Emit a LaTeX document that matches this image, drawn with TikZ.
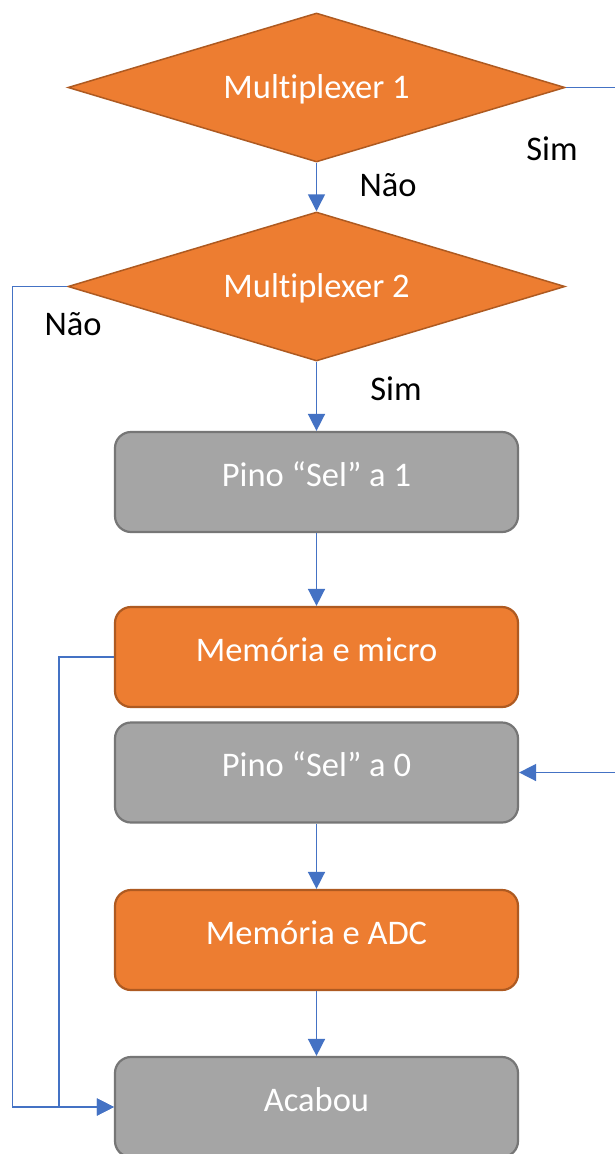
\documentclass[tikz,border=0pt]{standalone}
\usepackage{fontspec}
\setmainfont[Ligatures=NoCommon]{Carlito}
\usetikzlibrary{shapes.geometric,arrows.meta}
\definecolor{orangefill}{HTML}{ED7D31}
\definecolor{orangeline}{HTML}{AE5A21}
\definecolor{grayfill}{HTML}{A5A5A5}
\definecolor{grayline}{HTML}{767676}
\definecolor{flowblue}{HTML}{4472C4}
\begin{document}
\begin{tikzpicture}[x=1pt,y=-1pt,
  every node/.style={font=\fontsize{34.5}{40}\selectfont},
  decision/.style={diamond, aspect=3.33, minimum width=497pt, minimum height=149pt,
    inner sep=0pt, fill=orangefill, draw=orangeline, line width=1.5pt,
    text=white, text height=22pt, text depth=0pt},
  stepbox/.style={rectangle, rounded corners=16pt, minimum width=403pt, minimum height=100pt,
    inner sep=0pt, line width=2.2pt, text=white, text height=24pt, text depth=16pt},
  graybox/.style={stepbox, fill=grayfill, draw=grayline},
  orangebox/.style={stepbox, fill=orangefill, draw=orangeline},
  answer/.style={text=black, inner sep=0pt, text height=22pt, text depth=0pt},
  flow/.style={draw=flowblue, line width=1.5pt, -{Triangle[length=17pt,width=17pt]}}
]
\useasboundingbox (0,0) rectangle (614,1154);
\fill[white] (0,0) rectangle (614,1154);

% decisions
\node[decision] (m1) at (316.5,87.5) {Multiplexer 1};
\node[decision] (m2) at (316.5,286.5) {Multiplexer 2};

% process steps
\node[graybox]   (sel1)  at (316.5,482)  {Pino “Sel” a 1};
\node[orangebox] (micro) at (316.5,657)  {Memória e micro};
\node[graybox]   (sel0)  at (316.5,772.5) {Pino “Sel” a 0};
\node[orangebox] (adc)   at (316.5,940)  {Memória e ADC};
\node[graybox]   (done)  at (316.5,1107) {Acabou};

% branch labels
\node[answer] (m1yes) at (552,149) {Sim};
\node[answer] (m1no)  at (388,185) {Não};
\node[answer] (m2no)  at (73,324)  {Não};
\node[answer] (m2yes) at (396,389) {Sim};

% connectors
\draw[flow] (m1.south) -- (m2.north);
\draw[flow] (m2.south) -- (sel1.north);
\draw[flow] (sel1.south) -- (micro.north);
\draw[flow] (sel0.south) -- (adc.north);
\draw[flow] (adc.south) -- (done.north);
\draw[flow] (m1.east) -- ++(80,0) |- (sel0.east);
\draw[flow] (m2.west) -- ++(-55,0) |- (done.west);
\draw[flow] (micro.west) -- ++(-55,0) |- (done.west);
\end{tikzpicture}
\end{document}
